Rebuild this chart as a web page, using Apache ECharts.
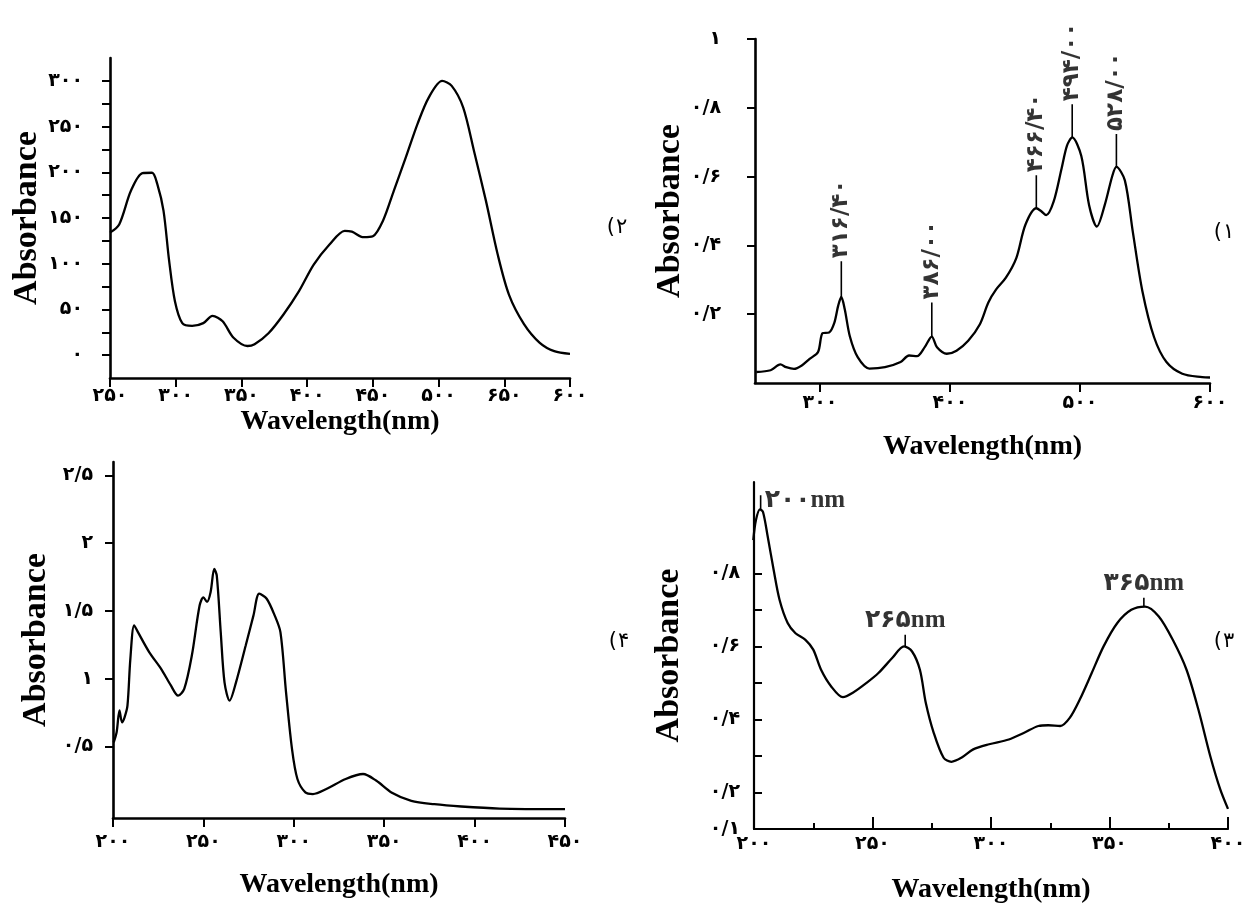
<!DOCTYPE html>
<html><head><meta charset="utf-8">
<script src="https://cdn.jsdelivr.net/npm/echarts@6/dist/echarts.min.js"></script>
<style>html,body{margin:0;padding:0;background:#fff}#c{width:1255px;height:908px}</style>
</head><body><div id="c"></div>
<script>
// ---------- Panel (2) top-left ----------
const p1Wavelength = [250,257,266,274.7,282,286,290.7,295,299.4,305,312.5,321,328,335.7,344,354.6,360,370.6,382,393.8,405,417,428.6,434,443,450,457.7,466,475,484,492.6,502.7,510,518.7,527,536,545,553.6,565,577,588,600];
const p1Absorbance = [134,143,180,199,199.5,187,158,103,59,35,32,35,43,37,19,10,12,24,44.5,70,99,121,136,135,129,130,147,180,216,253,282,300,294.5,271,223,169,110,66,34,13.5,4.4,1.5];
const p1XTicks = [250,300,350,400,450,500,550,600];
const p1XLabels = ['۲۵۰','۳۰۰','۳۵۰','۴۰۰','۴۵۰','۵۰۰','۶۵۰','۶۰۰'];
const p1YTicks = [0,25,50,75,100,125,150,175,200,225,250,275,300];
const p1YLabelValues = [0,50,100,150,200,250,300];
const p1YLabels = ['۰','۵۰','۱۰۰','۱۵۰','۲۰۰','۲۵۰','۳۰۰'];

// ---------- Panel (1) top-right ----------
const p2Wavelength = [251,262,269.5,274,280,286,292,298.5,302,307,311,314,316.4,319,323,329,338,350,362,368.5,374.6,380.7,386,390,397.5,405,414,423,429.5,435.5,443,451,458,466.4,470,474,479.7,485.8,490,494,501,507,513,519,525,528,534.5,540.6,548,557,566.5,578.7,594,600];
const p2Absorbance = [0.032,0.037,0.054,0.046,0.041,0.051,0.07,0.09,0.145,0.147,0.175,0.225,0.25,0.215,0.135,0.075,0.042,0.046,0.061,0.08,0.078,0.105,0.135,0.104,0.085,0.094,0.123,0.171,0.234,0.272,0.306,0.363,0.46,0.508,0.5,0.488,0.527,0.623,0.69,0.714,0.66,0.517,0.455,0.517,0.604,0.628,0.589,0.44,0.267,0.133,0.061,0.027,0.017,0.016];
const p2XTicks = [300,400,500,600];
const p2XLabels = ['۳۰۰','۴۰۰','۵۰۰','۶۰۰'];
const p2YTicks = [0.2,0.4,0.6,0.8,1];
const p2YLabels = ['۰/۲','۰/۴','۰/۶','۰/۸','۱'];
const p2PeakX = [316.4,386,466.4,494,528];
const p2PeakY = [0.25,0.135,0.508,0.714,0.628];
const p2StickTop = [0.354,0.234,0.604,0.81,0.724];
const p2PeakLabels = ['۳۱۶/۴۰','۳۸۶/۰۰','۴۶۶/۴۰','۴۹۴/۰۰','۵۲۸/۰۰'];

// ---------- Panel (4) bottom-left ----------
const p3Wavelength = [200.4,202,203.6,205,206.4,208,209.6,211.7,213.8,220,226.6,232,236,239.4,243.6,247.9,250,252,254,256,257.4,259.6,261.7,264.5,268,273.4,277.7,280.9,285,289.4,292.6,295.7,299,302,306.4,310.6,318,328.7,338.3,345.7,354,365,377.7,392.6,413.8,450];
const p3Absorbance = [0.529,0.603,0.764,0.677,0.714,0.8,1.146,1.393,1.343,1.196,1.072,0.949,0.874,0.924,1.17,1.54,1.6,1.566,1.64,1.81,1.76,1.34,0.97,0.837,0.97,1.244,1.467,1.627,1.59,1.467,1.343,0.9,0.48,0.258,0.159,0.147,0.184,0.258,0.295,0.245,0.159,0.097,0.072,0.055,0.04,0.035];
const p3XTicks = [200,250,300,350,400,450];
const p3XLabels = ['۲۰۰','۲۵۰','۳۰۰','۳۵۰','۴۰۰','۴۵۰'];
const p3YTicks = [0.5,1,1.5,2,2.5];
const p3YLabels = ['۰/۵','۱','۱/۵','۲','۲/۵'];

// ---------- Panel (3) bottom-right ----------
const p4Wavelength = [199.7,200.8,202.5,203.8,205.8,208.3,210.8,214.2,217.5,221.7,225,228.3,232.5,237.5,241.7,247.5,252.5,258.3,263.3,266.7,270,272.5,275.8,280,283.3,287.5,292.5,299.2,307.5,314.2,320,324.2,329.2,333.3,337.5,342.5,347.5,353.3,359.2,365,370.8,376.7,382.5,387.5,392.5,396.7,400];
const p4Absorbance = [0.891,0.945,0.975,0.968,0.9,0.809,0.727,0.664,0.636,0.618,0.591,0.536,0.491,0.461,0.473,0.5,0.527,0.568,0.6,0.586,0.536,0.445,0.364,0.295,0.284,0.295,0.318,0.332,0.345,0.364,0.382,0.384,0.382,0.405,0.455,0.527,0.6,0.664,0.7,0.709,0.682,0.618,0.536,0.427,0.3,0.209,0.155];
const p4XTicks = [200,250,300,350,400];
const p4XMinorTicks = [225,275,325,375];
const p4XLabels = ['۲۰۰','۲۵۰','۳۰۰','۳۵۰','۴۰۰'];
const p4YTicks = [0.2,0.3,0.4,0.5,0.6,0.7,0.8];
const p4YLabelValues = [0.1,0.2,0.4,0.6,0.8];
const p4YLabels = ['۰/۱','۰/۲','۰/۴','۰/۶','۰/۸'];
const p4PeakX = [202.8,263.8,364.5];
const p4PeakY = [0.975,0.6,0.709];
const p4StickTop = [1.014,0.632,0.733];
const p4PeakLabels = ['۲۰۰nm','۲۶۵nm','۳۶۵nm'];

// panel tags: opening parenthesis + Persian digit
const panelTagDigits = ['۲','۱','۴','۳'];

// ---------- builders ----------
const SERIF = "'Liberation Serif','DejaVu Serif',serif";
const SERIF_AR = "'Liberation Serif','DejaVu Sans',serif";
const DIG = "'DejaVu Sans',sans-serif";
const TICKFONT = 19;
function lab(vals, labels){
  return function(v){
    for (let i=0;i<vals.length;i++) if (Math.abs(vals[i]-v)<1e-6) return labels[i];
    return '';
  };
}
function xAx(gi,min,max,ticks,labelVals,labels,gap,margin,lw,inside,tlen){
  return {type:'value',gridIndex:gi,min:min,max:max,position:'bottom',
    name:'Wavelength(nm)',nameLocation:'middle',nameGap:gap,
    nameTextStyle:{fontFamily:SERIF,fontWeight:'bold',fontSize:28,color:'#000'},
    axisLine:{show:true,onZero:false,lineStyle:{color:'#000',width:lw}},
    axisTick:{show:true,inside:!!inside,customValues:ticks,length:tlen||9,lineStyle:{color:'#000',width:2}},
    axisLabel:{show:true,customValues:labelVals,formatter:lab(labelVals,labels),margin:margin,fontFamily:DIG,fontWeight:'bold',fontSize:TICKFONT,color:'#000'},
    splitLine:{show:false}};
}
function yAx(gi,min,max,ticks,labelVals,labels,gap,margin,lw,nameSize,inside){
  return {type:'value',gridIndex:gi,min:min,max:max,position:'left',
    name:'Absorbance',nameLocation:'middle',nameGap:gap,
    nameTextStyle:{fontFamily:SERIF,fontWeight:'bold',fontSize:nameSize,color:'#000'},
    axisLine:{show:true,onZero:false,lineStyle:{color:'#000',width:lw}},
    axisTick:{show:true,inside:!!inside,customValues:ticks,length:8,lineStyle:{color:'#000',width:2}},
    axisLabel:{show:true,customValues:labelVals,formatter:lab(labelVals,labels),margin:margin,fontFamily:DIG,fontWeight:'bold',fontSize:TICKFONT,color:'#000'},
    splitLine:{show:false}};
}
function zip(a,b){ return a.map((v,i)=>[v,b[i]]); }
function curve(i,xs,ys){
  return {type:'line',xAxisIndex:i,yAxisIndex:i,data:zip(xs,ys),showSymbol:false,symbol:'none',
    smooth:0.3,lineStyle:{color:'#000',width:2.3},silent:true,animation:false,z:3};
}
function sticks(i,xs,y0,y1){
  return xs.map((x,k)=>({type:'line',xAxisIndex:i,yAxisIndex:i,data:[[x,y0[k]],[x,y1[k]]],
    showSymbol:false,symbol:'none',lineStyle:{color:'#000',width:1.6},silent:true,animation:false,z:3}));
}

const tagPos = [[620,228],[1227,233],[622,642],[1227,642]];
const graphics = [];
tagPos.forEach((p,k)=>{
  graphics.push({type:'text',x:p[0]-5,y:p[1],style:{text:'(',font:"21px 'DejaVu Sans'",fill:'#000',align:'right',verticalAlign:'middle'}});
  graphics.push({type:'text',x:p[0]-4,y:p[1],style:{text:panelTagDigits[k],font:"21px 'DejaVu Sans'",fill:'#000',align:'left',verticalAlign:'middle'}});
});

const option = {
  backgroundColor:'#fff',
  animation:false,
  grid:[
    {left:110,top:58,width:460,height:320,containLabel:false,outerBoundsMode:'none'},
    {left:755,top:39,width:455,height:344,containLabel:false,outerBoundsMode:'none'},
    {left:113,top:462,width:452,height:356,containLabel:false,outerBoundsMode:'none'},
    {left:754,top:482,width:474,height:347,containLabel:false,outerBoundsMode:'none'}
  ],
  xAxis:[
    xAx(0,250,600,p1XTicks,p1XTicks,p1XLabels,30,9,2.6,false,9),
    xAx(1,250,600,p2XTicks,p2XTicks,p2XLabels,50,11,2.6,false,9),
    xAx(2,200,450,p3XTicks,p3XTicks,p3XLabels,53,15,2.6,false,9),
    xAx(3,200,400,p4XTicks,p4XTicks,p4XLabels,47,6,2.2,true,12),
    {type:'value',gridIndex:3,min:200,max:400,position:'bottom',offset:0,
      axisLine:{show:false},axisLabel:{show:false},splitLine:{show:false},
      axisTick:{show:true,inside:true,customValues:p4XMinorTicks,length:6,lineStyle:{color:'#000',width:2}}}
  ],
  yAxis:[
    yAx(0,-25,325,p1YTicks,p1YLabelValues,p1YLabels,55,27,2.6,34,false),
    yAx(1,0,1,p2YTicks,p2YTicks,p2YLabels,50,34,2.6,34,false),
    yAx(2,-0.03,2.6,p3YTicks,p3YTicks,p3YLabels,60,20,2.6,34,false),
    yAx(3,0.1,1.05,p4YTicks,p4YLabelValues,p4YLabels,68,14,2.2,34,true)
  ],
  series:[
    curve(0,p1Wavelength,p1Absorbance),
    curve(1,p2Wavelength,p2Absorbance),
    curve(2,p3Wavelength,p3Absorbance),
    curve(3,p4Wavelength,p4Absorbance),
    ...sticks(1,p2PeakX,p2PeakY,p2StickTop),
    ...sticks(3,p4PeakX,p4PeakY,p4StickTop),
    {type:'scatter',xAxisIndex:1,yAxisIndex:1,symbolSize:0,silent:true,animation:false,
      data:p2PeakX.map((x,k)=>[x,p2StickTop[k],p2PeakLabels[k]]),
      label:{show:true,formatter:p=>p.data[2],position:'top',distance:3,rotate:90,align:'left',verticalAlign:'middle',
        color:'#000',fontFamily:DIG,fontWeight:'bold',fontSize:23}},
    {type:'scatter',xAxisIndex:3,yAxisIndex:3,symbolSize:0,silent:true,animation:false,
      data:[[p4PeakX[0],1.0,p4PeakLabels[0]]],
      label:{show:true,formatter:p=>p.data[2],position:'right',distance:4,color:'#000',fontFamily:SERIF_AR,fontWeight:'bold',fontSize:25}},
    {type:'scatter',xAxisIndex:3,yAxisIndex:3,symbolSize:0,silent:true,animation:false,
      data:[[p4PeakX[1],p4StickTop[1],p4PeakLabels[1]],[p4PeakX[2],p4StickTop[2],p4PeakLabels[2]]],
      label:{show:true,formatter:p=>p.data[2],position:'top',distance:2,color:'#000',fontFamily:SERIF_AR,fontWeight:'bold',fontSize:25}}
  ],
  graphic:graphics
};
const chart = echarts.init(document.getElementById('c'),null,{renderer:'canvas'});
chart.setOption(option);
</script>
</body></html>
